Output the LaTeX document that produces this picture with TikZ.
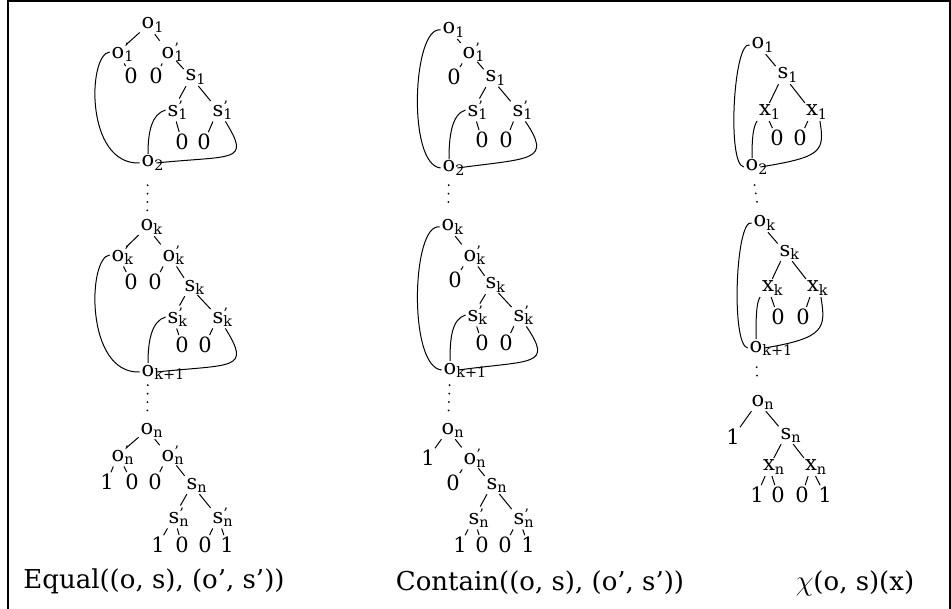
\documentclass[tikz,border=0pt]{standalone}
\usepackage{fontspec}
\setmainfont{DejaVu Serif}
\newcommand{\trsub}[1]{\raisebox{-1.6pt}{\fontsize{7.2}{8}\selectfont #1}}
\newcommand{\olab}[2]{#1\rlap{\trsub{#2}}}
\newcommand{\plab}[2]{#1\rlap{\raisebox{2.6pt}{\fontsize{7.2}{8}\selectfont '}}\rlap{\trsub{#2}}}
\tikzset{
  tr node/.style={inner sep=0.8pt, font=\fontsize{10.5}{12}\selectfont},
  tr edge/.style={draw=black, line width=0.5pt},
  tr loop/.style={draw=black, line width=0.5pt},
  tr dots/.style={draw=black, line width=1pt, line cap=round, dash pattern=on 0.01pt off 4.2pt},
  tr caption/.style={inner sep=0pt, font=\fontsize{13}{15}\selectfont},
  tr frame/.style={draw=black, line width=0.8pt},
}
\begin{document}
\begin{tikzpicture}[x=0.5pt, y=-0.5pt]
  \useasboundingbox (0,0) rectangle (951,609);
  \draw[tr frame] (8,609) -- (8,1) -- (950,1) -- (950,609);
  % ----- Tree A: Equal -----
  % level 1
  \node[tr node] (eqO1) at (148,25) {\olab{o}{1}};
  \node[tr node] (eqO1a) at (118,52) {\plab{o}{1}};
  \node[tr node] (eqO1b) at (168,52) {\plab{o}{1}};
  \node[tr node] (eqZ1a) at (131,76) {0};
  \node[tr node] (eqZ1b) at (156,76) {0};
  \node[tr node] (eqS1) at (191,77) {\olab{s}{1}};
  \node[tr node] (eqS1a) at (173,110) {\plab{s}{1}};
  \node[tr node] (eqS1b) at (218,110) {\plab{s}{1}};
  \node[tr node] (eqZ1c) at (182,142) {0};
  \node[tr node] (eqZ1d) at (204,142) {0};
  \node[tr node] (eqO2) at (148,163) {\olab{o}{2}};
  \draw[tr edge] (eqO1) -- (eqO1a);
  \draw[tr edge] (eqO1) -- (eqO1b);
  \draw[tr edge] (eqO1a) -- (eqZ1a);
  \draw[tr edge] (eqO1b) -- (eqZ1b);
  \draw[tr edge] (eqO1b) -- (eqS1);
  \draw[tr edge] (eqS1) -- (eqS1a);
  \draw[tr edge] (eqS1) -- (eqS1b);
  \draw[tr edge] (eqS1a) -- (eqZ1c);
  \draw[tr edge] (eqS1b) -- (eqZ1d);
  \draw[tr loop] (eqO1a.west) .. controls +(-22,2) and +(-55,2) .. (eqO2.west);
  \draw[tr loop] (eqS1a.west) .. controls +(-14,4) and +(0,-22) .. (eqO2.north);
  \draw[tr loop] (eqS1b.south east) .. controls +(26,42) and +(77,-8) .. (eqO2.east);
  % level k
  \node[tr node] (eqOk) at (147,227) {\olab{o}{k}};
  \node[tr node] (eqOka) at (118,255) {\plab{o}{k}};
  \node[tr node] (eqOkb) at (169,255) {\plab{o}{k}};
  \node[tr node] (eqZka) at (131,282) {0};
  \node[tr node] (eqZkb) at (155,282) {0};
  \node[tr node] (eqSk) at (190,287) {\olab{s}{k}};
  \node[tr node] (eqSka) at (173,317) {\plab{s}{k}};
  \node[tr node] (eqSkb) at (218,317) {\plab{s}{k}};
  \node[tr node] (eqZkc) at (182,345) {0};
  \node[tr node] (eqZkd) at (205,345) {0};
  \node[tr node] (eqOk1) at (148,372) {\olab{o}{k+1}};
  \draw[tr dots, shorten <=6.5pt, shorten >=2pt] (eqO2) -- (eqOk);
  \draw[tr edge] (eqOk) -- (eqOka);
  \draw[tr edge] (eqOk) -- (eqOkb);
  \draw[tr edge] (eqOka) -- (eqZka);
  \draw[tr edge] (eqOkb) -- (eqZkb);
  \draw[tr edge] (eqOkb) -- (eqSk);
  \draw[tr edge] (eqSk) -- (eqSka);
  \draw[tr edge] (eqSk) -- (eqSkb);
  \draw[tr edge] (eqSka) -- (eqZkc);
  \draw[tr edge] (eqSkb) -- (eqZkd);
  \draw[tr loop] (eqOka.west) .. controls +(-22,2) and +(-55,2) .. (eqOk1.west);
  \draw[tr loop] (eqSka.west) .. controls +(-14,4) and +(0,-22) .. (eqOk1.north);
  \draw[tr loop] (eqSkb.south east) .. controls +(26,42) and +(77,-8) .. (eqOk1.east);
  % level n
  \node[tr node] (eqOn) at (147,430) {\olab{o}{n}};
  \node[tr node] (eqOna) at (118,455) {\plab{o}{n}};
  \node[tr node] (eqOnb) at (168,455) {\plab{o}{n}};
  \node[tr node] (eqLn1) at (107,482) {1};
  \node[tr node] (eqLn2) at (132,482) {0};
  \node[tr node] (eqLn3) at (155,482) {0};
  \node[tr node] (eqSn) at (192,485) {\olab{s}{n}};
  \node[tr node] (eqSna) at (174,517) {\plab{s}{n}};
  \node[tr node] (eqSnb) at (218,517) {\plab{s}{n}};
  \node[tr node] (eqLn4) at (158,545) {1};
  \node[tr node] (eqLn5) at (182,545) {0};
  \node[tr node] (eqLn6) at (205,545) {0};
  \node[tr node] (eqLn7) at (227,545) {1};
  \draw[tr dots, shorten <=2pt, shorten >=4.5pt] (eqOk1) -- (eqOn);
  \draw[tr edge] (eqOn) -- (eqOna);
  \draw[tr edge] (eqOn) -- (eqOnb);
  \draw[tr edge] (eqOna) -- (eqLn1);
  \draw[tr edge] (eqOna) -- (eqLn2);
  \draw[tr edge] (eqOnb) -- (eqLn3);
  \draw[tr edge] (eqOnb) -- (eqSn);
  \draw[tr edge] (eqSn) -- (eqSna);
  \draw[tr edge] (eqSn) -- (eqSnb);
  \draw[tr edge] (eqSna) -- (eqLn4);
  \draw[tr edge] (eqSna) -- (eqLn5);
  \draw[tr edge] (eqSnb) -- (eqLn6);
  \draw[tr edge] (eqSnb) -- (eqLn7);
  \node[tr caption] (capEq) at (154,581) {Equal((o, s), (o', s'))};

  % ----- Tree B: Contain -----
  % level 1
  \node[tr node] (ctO1) at (449,30) {\olab{o}{1}};
  \node[tr node] (ctO1a) at (469,52) {\plab{o}{1}};
  \node[tr node] (ctZ1a) at (454,77) {0};
  \node[tr node] (ctS1) at (491,78) {\olab{s}{1}};
  \node[tr node] (ctS1a) at (473,110) {\plab{s}{1}};
  \node[tr node] (ctS1b) at (518,110) {\plab{s}{1}};
  \node[tr node] (ctZ1b) at (482,140) {0};
  \node[tr node] (ctZ1c) at (506,140) {0};
  \node[tr node] (ctO2) at (449,168) {\olab{o}{2}};
  \draw[tr edge] (ctO1) -- (ctO1a);
  \draw[tr edge] (ctO1a) -- (ctZ1a);
  \draw[tr edge] (ctO1a) -- (ctS1);
  \draw[tr edge] (ctS1) -- (ctS1a);
  \draw[tr edge] (ctS1) -- (ctS1b);
  \draw[tr edge] (ctS1a) -- (ctZ1b);
  \draw[tr edge] (ctS1b) -- (ctZ1c);
  \draw[tr loop] (ctO1.west) .. controls +(-28,-5) and +(-34,-3) .. (ctO2.west);
  \draw[tr loop] (ctS1a.west) .. controls +(-14,4) and +(0,-22) .. (ctO2.north);
  \draw[tr loop] (ctS1b.south east) .. controls +(27,40) and +(74,-10) .. (ctO2.east);
  % level k
  \node[tr node] (ctOk) at (448,227) {\olab{o}{k}};
  \node[tr node] (ctOka) at (470,255) {\plab{o}{k}};
  \node[tr node] (ctZka) at (455,280) {0};
  \node[tr node] (ctSk) at (491,285) {\olab{s}{k}};
  \node[tr node] (ctSka) at (473,315) {\plab{s}{k}};
  \node[tr node] (ctSkb) at (519,315) {\plab{s}{k}};
  \node[tr node] (ctZkb) at (482,343) {0};
  \node[tr node] (ctZkc) at (506,343) {0};
  \node[tr node] (ctOk1) at (450,370) {\olab{o}{k+1}};
  \draw[tr dots, shorten <=4pt, shorten >=5pt] (ctO2) -- (ctOk);
  \draw[tr edge] (ctOk) -- (ctOka);
  \draw[tr edge] (ctOka) -- (ctZka);
  \draw[tr edge] (ctOka) -- (ctSk);
  \draw[tr edge] (ctSk) -- (ctSka);
  \draw[tr edge] (ctSk) -- (ctSkb);
  \draw[tr edge] (ctSka) -- (ctZkb);
  \draw[tr edge] (ctSkb) -- (ctZkc);
  \draw[tr loop] (ctOk.west) .. controls +(-28,-5) and +(-34,-3) .. (ctOk1.west);
  \draw[tr loop] (ctSka.west) .. controls +(-14,4) and +(0,-22) .. (ctOk1.north);
  \draw[tr loop] (ctSkb.south east) .. controls +(27,40) and +(74,-10) .. (ctOk1.east);
  % level n
  \node[tr node] (ctOn) at (448,430) {\olab{o}{n}};
  \node[tr node] (ctLn1) at (428,458) {1};
  \node[tr node] (ctOna) at (470,458) {\plab{o}{n}};
  \node[tr node] (ctLn2) at (453,483) {0};
  \node[tr node] (ctSn) at (492,485) {\olab{s}{n}};
  \node[tr node] (ctSna) at (474,518) {\plab{s}{n}};
  \node[tr node] (ctSnb) at (519,518) {\plab{s}{n}};
  \node[tr node] (ctLn3) at (460,545) {1};
  \node[tr node] (ctLn4) at (482,545) {0};
  \node[tr node] (ctLn5) at (505,545) {0};
  \node[tr node] (ctLn6) at (528,545) {1};
  \draw[tr dots, shorten <=3pt, shorten >=5pt] (ctOk1) -- (ctOn);
  \draw[tr edge] (ctOn) -- (ctLn1);
  \draw[tr edge] (ctOn) -- (ctOna);
  \draw[tr edge] (ctOna) -- (ctLn2);
  \draw[tr edge] (ctOna) -- (ctSn);
  \draw[tr edge] (ctSn) -- (ctSna);
  \draw[tr edge] (ctSn) -- (ctSnb);
  \draw[tr edge] (ctSna) -- (ctLn3);
  \draw[tr edge] (ctSna) -- (ctLn4);
  \draw[tr edge] (ctSnb) -- (ctLn5);
  \draw[tr edge] (ctSnb) -- (ctLn6);
  \node[tr caption] (capCt) at (540,583) {Contain((o, s), (o', s'))};

  % ----- Tree C: characteristic function -----
  % level 1
  \node[tr node] (chO1) at (758,45) {\olab{o}{1}};
  \node[tr node] (chS1) at (783,75) {\olab{s}{1}};
  \node[tr node] (chX1a) at (765,112) {\olab{x}{1}};
  \node[tr node] (chX1b) at (812,112) {\olab{x}{1}};
  \node[tr node] (chZ1a) at (777,138) {0};
  \node[tr node] (chZ1b) at (800,138) {0};
  \node[tr node] (chO2) at (752,167) {\olab{o}{2}};
  \draw[tr edge] (chO1) -- (chS1);
  \draw[tr edge] (chS1) -- (chX1a);
  \draw[tr edge] (chS1) -- (chX1b);
  \draw[tr edge] (chX1a) -- (chZ1a);
  \draw[tr edge] (chX1b) -- (chZ1b);
  \draw[tr loop] (chO1.west) .. controls +(-16,-5) and +(-17,-3) .. (chO2.west);
  \draw[tr loop] (chX1a.south west) .. controls +(-4,6) and +(0,-20) .. (chO2.north);
  \draw[tr loop] (chX1b.south east) .. controls +(5,31) and +(61,-10) .. (chO2.east);
  % level k
  \node[tr node] (chOk) at (760,223) {\olab{o}{k}};
  \node[tr node] (chSk) at (785,252) {\olab{s}{k}};
  \node[tr node] (chXka) at (768,288) {\olab{x}{k}};
  \node[tr node] (chXkb) at (813,288) {\olab{x}{k}};
  \node[tr node] (chZka) at (778,317) {0};
  \node[tr node] (chZkb) at (803,317) {0};
  \node[tr node] (chOk1) at (756,348) {\olab{o}{k+1}};
  \draw[tr dots, shorten <=4.5pt, shorten >=4pt] (chO2) -- (chOk);
  \draw[tr edge] (chOk) -- (chSk);
  \draw[tr edge] (chSk) -- (chXka);
  \draw[tr edge] (chSk) -- (chXkb);
  \draw[tr edge] (chXka) -- (chZka);
  \draw[tr edge] (chXkb) -- (chZkb);
  \draw[tr loop] (chOk.west) .. controls +(-16,-5) and +(-17,-3) .. (chOk1.west);
  \draw[tr loop] (chXka.south west) .. controls +(-4,6) and +(0,-20) .. (chOk1.north);
  \draw[tr loop] (chXkb.south east) .. controls +(5,31) and +(61,-10) .. (chOk1.east);
  % level n
  \node[tr node] (chOn) at (758,402) {\olab{o}{n}};
  \node[tr node] (chLn1) at (733,437) {1};
  \node[tr node] (chSn) at (786,435) {\olab{s}{n}};
  \node[tr node] (chXna) at (769,467) {\olab{x}{n}};
  \node[tr node] (chXnb) at (811,467) {\olab{x}{n}};
  \node[tr node] (chLn2) at (757,495) {1};
  \node[tr node] (chLn3) at (778,495) {0};
  \node[tr node] (chLn4) at (802,495) {0};
  \node[tr node] (chLn5) at (825,495) {1};
  \draw[tr dots, shorten <=5pt, shorten >=5pt] (chOk1) -- (chOn);
  \draw[tr edge] (chOn) -- (chLn1);
  \draw[tr edge] (chOn) -- (chSn);
  \draw[tr edge] (chSn) -- (chXna);
  \draw[tr edge] (chSn) -- (chXnb);
  \draw[tr edge] (chXna) -- (chLn2);
  \draw[tr edge] (chXna) -- (chLn3);
  \draw[tr edge] (chXnb) -- (chLn4);
  \draw[tr edge] (chXnb) -- (chLn5);
  \node[tr caption] (capCh) at (855,583) {{\Large$\chi$}(o, s)(x)};
\end{tikzpicture}
\end{document}
